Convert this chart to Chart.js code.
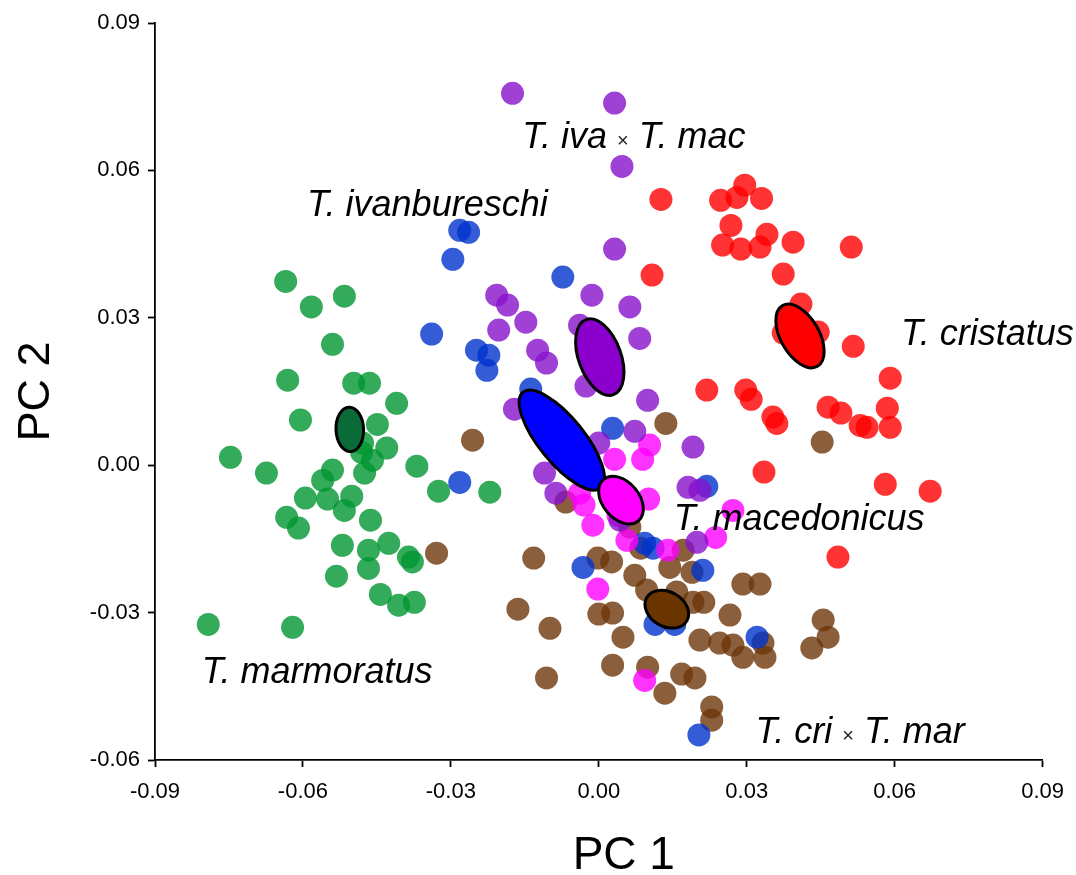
<!DOCTYPE html>
<html>
<head>
<meta charset="utf-8">
<title>PCA of Triturus newts</title>
<script src="https://cdn.jsdelivr.net/npm/chart.js@4/dist/chart.umd.min.js"></script>
<style>
  html, body { margin: 0; padding: 0; background: #fff; }
  #wrap { width: 1076px; height: 875px; position: relative; }
</style>
</head>
<body>
<div id="wrap"><canvas id="pca"></canvas></div>
<script>
// Individual scores on the first two principal components, [PC1, PC2]
const marmoratus = [
  [-0.0635, 0.0374], [-0.0583, 0.0322], [-0.0516, 0.0344], [-0.0540, 0.0246],
  [-0.0631, 0.0173], [-0.0497, 0.0167], [-0.0465, 0.0167], [-0.0410, 0.0126],
  [-0.0605, 0.0092], [-0.0449, 0.0083], [-0.0479, 0.0045], [-0.0430, 0.0035],
  [-0.0481, 0.0026], [-0.0459, 0.0010], [-0.0747, 0.0016], [-0.0674, -0.0016],
  [-0.0475, -0.0016], [-0.0540, -0.0010], [-0.0560, -0.0031], [-0.0369, -0.0002],
  [-0.0325, -0.0053], [-0.0595, -0.0067], [-0.0550, -0.0069], [-0.0501, -0.0063],
  [-0.0516, -0.0092], [-0.0633, -0.0106], [-0.0609, -0.0128], [-0.0463, -0.0112],
  [-0.0520, -0.0163], [-0.0467, -0.0173], [-0.0426, -0.0159], [-0.0386, -0.0187],
  [-0.0378, -0.0197], [-0.0467, -0.0210], [-0.0532, -0.0226], [-0.0443, -0.0263],
  [-0.0406, -0.0285], [-0.0374, -0.0279], [-0.0792, -0.0324], [-0.0621, -0.0330],
  [-0.0221, -0.0055]
];
const ivanbureschi = [
  [-0.0282, 0.0478], [-0.0264, 0.0474], [-0.0296, 0.0419], [-0.0073, 0.0383],
  [-0.0339, 0.0267], [-0.0248, 0.0234], [-0.0223, 0.0224], [-0.0227, 0.0193],
  [-0.0138, 0.0155], [0.0028, 0.0075], [-0.0282, -0.0035], [0.0219, -0.0043],
  [0.0093, -0.0159], [0.0110, -0.0169], [-0.0032, -0.0208], [0.0211, -0.0214],
  [0.0114, -0.0324], [0.0154, -0.0324], [0.0321, -0.0350], [0.0203, -0.0549]
];
const ivaXmac = [
  [-0.0175, 0.0757], [0.0032, 0.0737], [0.0047, 0.0608], [0.0032, 0.0440],
  [-0.0014, 0.0346], [0.0063, 0.0322], [-0.0207, 0.0346], [-0.0185, 0.0326],
  [-0.0148, 0.0291], [-0.0203, 0.0275], [-0.0039, 0.0285], [0.0083, 0.0258],
  [-0.0124, 0.0234], [-0.0106, 0.0208], [-0.0026, 0.0161], [0.0099, 0.0132],
  [-0.0171, 0.0114], [0.0073, 0.0069], [0.0000, 0.0045], [0.0191, 0.0037],
  [-0.0110, -0.0016], [-0.0087, -0.0057], [0.0181, -0.0045], [0.0205, -0.0051],
  [0.0199, -0.0157], [0.0043, -0.0112]
];
const macedonicus = [
  [0.0032, 0.0012], [0.0089, 0.0012], [0.0103, 0.0041], [-0.0039, -0.0057],
  [-0.0030, -0.0081], [-0.0012, -0.0122], [0.0101, -0.0069], [0.0057, -0.0153],
  [0.0140, -0.0173], [0.0237, -0.0147], [0.0272, -0.0092], [-0.0002, -0.0252],
  [0.0093, -0.0438], [0.0039, -0.0102]
];
const criXmar = [
  [-0.0256, 0.0051], [0.0136, 0.0085], [0.0453, 0.0047], [-0.0067, -0.0075],
  [0.0063, -0.0126], [0.0171, -0.0173], [-0.0329, -0.0179], [-0.0132, -0.0189],
  [-0.0002, -0.0189], [0.0026, -0.0197], [0.0073, -0.0224], [0.0097, -0.0254],
  [0.0158, -0.0258], [0.0144, -0.0208], [0.0189, -0.0218], [0.0191, -0.0279],
  [0.0213, -0.0279], [0.0266, -0.0305], [0.0292, -0.0242], [0.0327, -0.0242],
  [-0.0164, -0.0293], [-0.0099, -0.0332], [0.0000, -0.0303], [0.0028, -0.0301],
  [0.0049, -0.0350], [0.0205, -0.0356], [0.0245, -0.0362], [0.0272, -0.0366],
  [0.0292, -0.0391], [0.0337, -0.0391], [0.0333, -0.0362], [0.0455, -0.0315],
  [0.0465, -0.0350], [0.0432, -0.0372], [0.0028, -0.0407], [0.0099, -0.0411],
  [0.0168, -0.0425], [0.0195, -0.0433], [-0.0106, -0.0433], [0.0134, -0.0464],
  [0.0229, -0.0492], [0.0229, -0.0519], [0.0085, -0.0169]
];
const cristatus = [
  [0.0126, 0.0541], [0.0247, 0.0539], [0.0280, 0.0545], [0.0296, 0.0570],
  [0.0330, 0.0543], [0.0268, 0.0488], [0.0251, 0.0448], [0.0288, 0.0440],
  [0.0327, 0.0444], [0.0341, 0.0470], [0.0394, 0.0454], [0.0512, 0.0444],
  [0.0374, 0.0389], [0.0108, 0.0387], [0.0410, 0.0328], [0.0445, 0.0271],
  [0.0516, 0.0242], [0.0591, 0.0177], [0.0219, 0.0153], [0.0298, 0.0153],
  [0.0309, 0.0134], [0.0353, 0.0098], [0.0361, 0.0085], [0.0465, 0.0118],
  [0.0491, 0.0106], [0.0585, 0.0116], [0.0591, 0.0077], [0.0544, 0.0077],
  [0.0530, 0.0081], [0.0335, -0.0014], [0.0581, -0.0039], [0.0672, -0.0053],
  [0.0485, -0.0187], [0.0374, 0.0269]
];

// Group centroids and their ellipses (semi-axes in PC units, tilt in degrees)
const ellipseGroups = ['marmoratus', 'ivanbureschi', 'ivaXmac', 'macedonicus', 'criXmar', 'cristatus'];
const centroidPC1 = [-0.0505, -0.0075, 0.0002, 0.0045, 0.0138, 0.0408];
const centroidPC2 = [0.0073, 0.0051, 0.0220, -0.0071, -0.0293, 0.0263];
const semiMajor   = [0.0045, 0.0125, 0.0081, 0.0055, 0.0047, 0.0071];
const semiMinor   = [0.0028, 0.0046, 0.0043, 0.0037, 0.0035, 0.0039];
const tiltDeg     = [88, 51, 70, 50, 30, 60];

// Axis ticks
const pc1Ticks = [-0.09, -0.06, -0.03, 0.00, 0.03, 0.06, 0.09];
const pc2Ticks = [-0.06, -0.03, 0.00, 0.03, 0.06, 0.09];

const FONT = '"Liberation Sans", Arial, Helvetica, sans-serif';

const ellipseFill = {
  marmoratus: '#0b6b38', ivanbureschi: '#0000ff', ivaXmac: '#8b00cc',
  macedonicus: '#ff00ff', criXmar: '#6b3500', cristatus: '#ff0000'
};

// Species names written in the plot; parts joined by a small "×"
const speciesLabels = [
  { parts: ['T. ivanbureschi'], pc1: -0.0592, pc2: 0.0507 },
  { parts: ['T. iva', 'T. mac'], pc1: -0.0155, pc2: 0.0645 },
  { parts: ['T. cristatus'], pc1: 0.0613, pc2: 0.0244 },
  { parts: ['T. macedonicus'], pc1: 0.0152, pc2: -0.0132 },
  { parts: ['T. marmoratus'], pc1: -0.0805, pc2: -0.0444 },
  { parts: ['T. cri', 'T. mar'], pc1: 0.0318, pc2: -0.0566 }
];

const toPoints = arr => arr.map(([x, y]) => ({ x, y }));

function series(label, arr, color) {
  return {
    label,
    data: toPoints(arr),
    backgroundColor: color,
    borderWidth: 0,
    pointRadius: 11.5,
    pointHoverRadius: 11.5
  };
}

const ellipsePlugin = {
  id: 'groupEllipses',
  afterDatasetsDraw(chart) {
    const { ctx, scales: { x, y } } = chart;
    const unit = Math.abs(x.getPixelForValue(1) - x.getPixelForValue(0));
    ctx.save();
    ellipseGroups.forEach((g, i) => {
      const cx = x.getPixelForValue(centroidPC1[i]);
      const cy = y.getPixelForValue(centroidPC2[i]);
      ctx.beginPath();
      ctx.ellipse(cx, cy, semiMajor[i] * unit, semiMinor[i] * unit,
                  tiltDeg[i] * Math.PI / 180, 0, Math.PI * 2);
      ctx.fillStyle = ellipseFill[g];
      ctx.fill();
      ctx.lineWidth = 3;
      ctx.strokeStyle = '#000';
      ctx.stroke();
    });
    ctx.restore();
  }
};

const labelPlugin = {
  id: 'speciesLabels',
  afterDraw(chart) {
    const { ctx, chartArea, scales: { x, y } } = chart;
    const nameFont = 'italic 36px ' + FONT;
    const crossFont = '20px ' + FONT;
    ctx.save();
    ctx.textBaseline = 'alphabetic';
    ctx.textAlign = 'left';
    speciesLabels.forEach(lab => {
      let px = x.getPixelForValue(lab.pc1);
      const py = y.getPixelForValue(lab.pc2);
      ctx.font = nameFont;
      const gap = ctx.measureText(' ').width;
      lab.parts.forEach((part, k) => {
        if (k > 0) {
          px += gap;
          ctx.font = crossFont;
          ctx.fillStyle = '#222';
          ctx.fillText('\u00d7', px, py - 1);
          px += ctx.measureText('\u00d7').width + gap;
          ctx.font = nameFont;
        }
        ctx.fillStyle = '#000';
        ctx.fillText(part, px, py);
        px += ctx.measureText(part).width;
      });
    });

    // horizontal axis title, set a little right of the axis centre
    ctx.font = '46px ' + FONT;
    ctx.fillStyle = '#000';
    ctx.textAlign = 'center';
    ctx.textBaseline = 'middle';
    ctx.fillText('PC 1', (chartArea.left + chartArea.right) / 2 + 25, chart.height - 19);
    ctx.restore();
  }
};

const axisCommon = {
  type: 'linear',
  grid: {
    display: true,
    drawOnChartArea: false,
    drawTicks: true,
    tickLength: 7,
    tickColor: '#000',
    tickWidth: 1.8
  },
  border: { display: true, color: '#000', width: 1.8 }
};

new Chart(document.getElementById('pca'), {
  type: 'scatter',
  data: {
    datasets: [
      series('T. iva × T. mac', ivaXmac, 'rgba(136,17,204,0.8)'),
      series('T. macedonicus', macedonicus, 'rgba(255,0,255,0.8)'),
      series('T. ivanbureschi', ivanbureschi, 'rgba(0,51,204,0.8)'),
      series('T. cri × T. mar', criXmar, 'rgba(110,55,10,0.8)'),
      series('T. cristatus', cristatus, 'rgba(255,0,0,0.8)'),
      series('T. marmoratus', marmoratus, 'rgba(0,150,50,0.8)')
    ]
  },
  options: {
    responsive: true,
    maintainAspectRatio: false,
    animation: false,
    devicePixelRatio: 1,
    events: [],
    layout: { padding: { left: 0, top: 23, right: 33, bottom: 0 } },
    plugins: { legend: { display: false }, tooltip: { enabled: false } },
    scales: {
      x: {
        ...axisCommon,
        position: 'bottom',
        min: -0.09,
        max: 0.09,
        afterBuildTicks: s => { s.ticks = pc1Ticks.map(v => ({ value: v })); },
        afterFit: s => { s.height = 115; },
        ticks: {
          color: '#000',
          padding: 12,
          maxRotation: 0,
          autoSkip: false,
          font: { family: FONT, size: 22 },
          callback: v => Number(v).toFixed(2)
        },
        title: { display: false }
      },
      y: {
        ...axisCommon,
        position: 'left',
        min: -0.06,
        max: 0.09,
        afterBuildTicks: s => { s.ticks = pc2Ticks.map(v => ({ value: v })); },
        afterFit: s => { s.width = 155; },
        ticks: {
          color: '#000',
          padding: 8,
          autoSkip: false,
          font: { family: FONT, size: 22 },
          callback: v => Number(v).toFixed(2)
        },
        title: {
          display: true,
          text: 'PC 2',
          color: '#000',
          font: { family: FONT, size: 45, lineHeight: 1 },
          padding: { top: 14, bottom: 0 }
        }
      }
    }
  },
  plugins: [ellipsePlugin, labelPlugin]
});
</script>
</body>
</html>
